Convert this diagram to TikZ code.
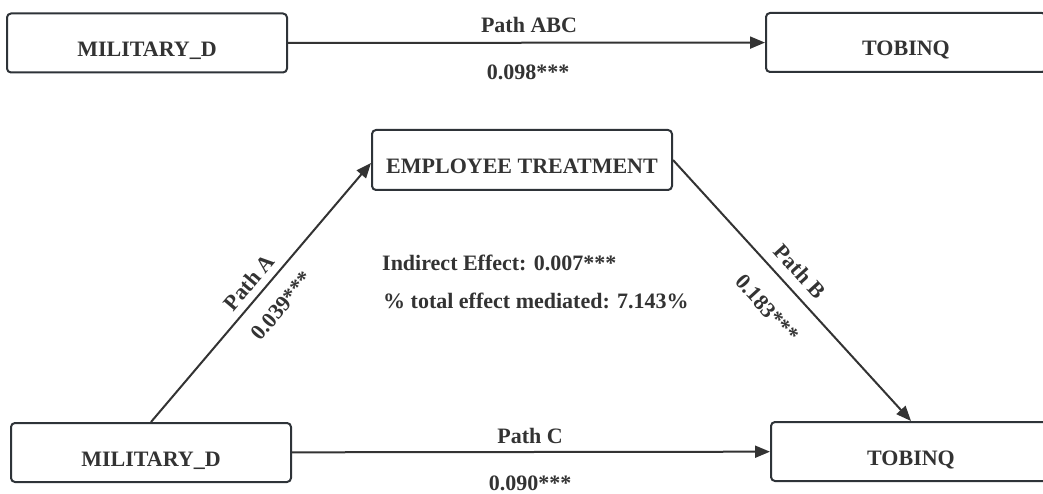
\documentclass[tikz,border=0pt]{standalone}
\usepackage{fontspec}
\setmainfont{Liberation Serif}
\usetikzlibrary{arrows.meta,calc}
\definecolor{ink}{HTML}{333333}
\definecolor{edge}{HTML}{2E3338}
\begin{document}
\begin{tikzpicture}[x=1pt,y=-1pt,
  box/.style={draw=edge,line width=2pt,rounded corners=4pt,fill=white,
    minimum height=59pt,inner sep=0pt,text height=27pt,text depth=0pt,
    text=ink,font=\fontsize{22}{26}\selectfont\bfseries},
  lbl/.style={text=ink,font=\fontsize{22}{26}\selectfont\bfseries,inner sep=0pt},
  conn/.style={draw=ink,line width=2pt,-{Triangle[length=15pt,width=12pt]}}]
\useasboundingbox (0,0) rectangle (1043,494);
% top row
\node[box,minimum width=280pt] (md1) at (147,43) {MILITARY\_D};
\node[box,minimum width=280pt] (tq1) at (906,42.5) {TOBINQ};
% bottom part
\node[box,minimum width=300pt,minimum height=60pt] (emp) at (522,160) {EMPLOYEE TREATMENT};
\node[box,minimum width=280pt] (md2) at (151,452.5) {MILITARY\_D};
\node[box,minimum width=280pt] (tq2) at (911,451.5) {TOBINQ};
% connectors
\draw[conn] (md1) -- (tq1);
\node[lbl,anchor=base] (pabc) at (529,33) {Path ABC};
\node[lbl,anchor=base] (vabc) at (528,80) {0.098***};
\draw[conn] (md2) -- (tq2);
\node[lbl,anchor=base] (pc) at (530,443) {Path C};
\node[lbl,anchor=base] (vc) at (530,490) {0.090***};
\draw[conn] (md2.north) -- ($(emp.west)+(0,3)$)
  node[lbl,pos=0.5,sloped,above=7pt] (pa) {Path A}
  node[lbl,pos=0.51,sloped,below=16pt] (va) {0.039***};
\draw[conn] (emp.east) -- (tq2.north)
  node[lbl,pos=0.475,sloped,above=10pt] (pb) {Path B}
  node[lbl,pos=0.49,sloped,below=22pt] (vb) {0.183***};
% center texts
\node[lbl,anchor=base west] (ind) at (382,270) {Indirect Effect: 0.007***};
\node[lbl,anchor=base west] (tot) at (383,308) {\% total effect mediated: 7.143\%};
\end{tikzpicture}
\end{document}
